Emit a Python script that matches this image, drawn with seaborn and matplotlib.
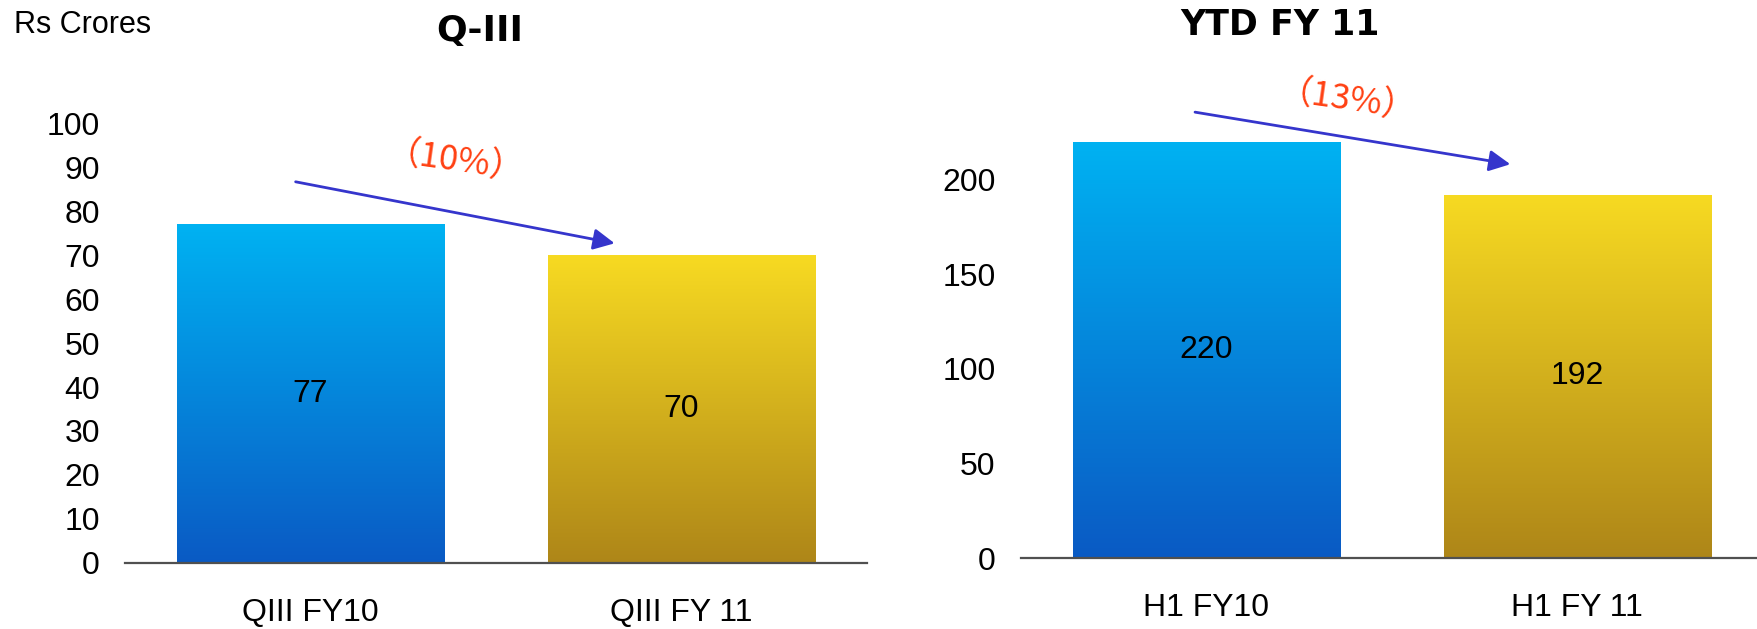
import matplotlib
matplotlib.use('Agg')
import matplotlib.pyplot as plt
import seaborn as sns
import numpy as np
from matplotlib.colors import LinearSegmentedColormap

# dados
cats_q3 = ['QIII FY10', 'QIII FY 11']
vals_q3 = [77, 70]
cats_ytd = ['H1 FY10', 'H1 FY 11']
vals_ytd = [220, 192]
yticks_q3 = list(range(0, 101, 10))
yticks_ytd = [0, 50, 100, 150, 200]
pct_q3 = '（10%）'
pct_ytd = '（13%）'

# cores do degradê (topo, base)
grad_blue = ('#00B2F2', '#0A5AC4')
grad_gold = ('#F7DA22', '#AE8618')

sns.set_style('white')
plt.rcParams['font.family'] = ['Liberation Sans', 'DejaVu Sans']
plt.rcParams['text.color'] = 'black'
plt.rcParams['xtick.color'] = 'black'
plt.rcParams['ytick.color'] = 'black'

fig = plt.figure(figsize=(17.58, 6.29), dpi=100)
ax1 = fig.add_axes([0.0711, 0.1052, 0.422, 0.6987])
ax2 = fig.add_axes([0.5806, 0.1124, 0.422, 0.7831])


def desenha(ax, cats, vals, ylim, yticks, pct, seta, pos_pct):
    sns.barplot(x=cats, y=vals, ax=ax, width=0.72, color='white', edgecolor='none')
    for patch, cores in zip(ax.patches, [grad_blue, grad_gold]):
        x0, w, h = patch.get_x(), patch.get_width(), patch.get_height()
        cmap = LinearSegmentedColormap.from_list('g', [cores[1], cores[0]])
        grad = np.linspace(0, 1, 256).reshape(-1, 1)
        im = ax.imshow(grad, extent=[x0, x0 + w, 0, h], origin='lower', aspect='auto',
                       cmap=cmap, zorder=2)
        im.set_clip_path(patch)
        patch.set_facecolor('none')
        # rótulo no meio da barra
        ax.text(x0 + w / 2, h / 2, str(h if h % 1 else int(h)), ha='center', va='center',
                fontsize=23, color='black', zorder=3)
    ax.set_xlim(-0.5, 1.5)
    ax.set_ylim(*ylim)
    ax.set_yticks(yticks)
    ax.tick_params(axis='y', labelsize=23, pad=18, length=0)
    ax.tick_params(axis='x', labelsize=23, pad=25, length=0)
    for s in ['top', 'right', 'left']:
        ax.spines[s].set_visible(False)
    ax.spines['bottom'].set_color('#505050')
    ax.spines['bottom'].set_linewidth(1.6)
    ax.spines['bottom'].set_zorder(4)
    ax.annotate('', xy=seta[1], xytext=seta[0], annotation_clip=False,
                arrowprops=dict(arrowstyle='-|>', color='#3535CC', lw=2, mutation_scale=32,
                                shrinkA=0, shrinkB=0))
    ax.text(pos_pct[0], pos_pct[1], pct, ha='center', va='center', rotation=-8,
            fontsize=25, color='#FF4012', family=['Noto Sans CJK JP', 'DejaVu Sans'],
            clip_on=False)


desenha(ax1, cats_q3, vals_q3, (0, 100), yticks_q3, pct_q3,
        [(-0.04, 86.7), (0.82, 72.7)], (0.39, 90.5))
desenha(ax2, cats_ytd, vals_ytd, (0, 260), yticks_ytd, pct_ytd,
        [(-0.03, 235.5), (0.82, 208)], (0.38, 240))

fig.text(0.0077, 0.961, 'Rs Crores', ha='left', va='center', fontsize=22)
fig.text(0.273, 0.950, 'Q-III', ha='center', va='center', fontsize=26, fontweight='bold',
         family='DejaVu Sans')
fig.text(0.728, 0.960, 'YTD FY 11', ha='center', va='center', fontsize=25, fontweight='bold',
         family='DejaVu Sans')

plt.savefig('out.png', dpi=100)
